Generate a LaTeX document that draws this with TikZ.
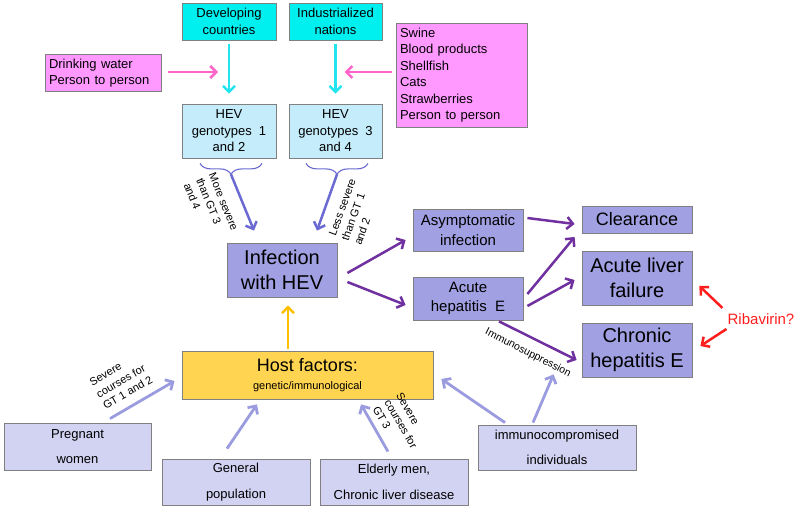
\documentclass[tikz,border=0pt]{standalone}
\usepackage{fontspec}
\setmainfont{Liberation Sans}
\usepackage{tikz}
\usetikzlibrary{arrows.meta,positioning,calc,decorations.pathreplacing}
\definecolor{aqua}{HTML}{00F0F0}
\definecolor{aqualine}{HTML}{22E4EE}
\definecolor{rose}{HTML}{FF99FF}
\definecolor{roseline}{HTML}{FF66CC}
\definecolor{sky}{HTML}{C4ECFA}
\definecolor{lav}{HTML}{A0A0E2}
\definecolor{pale}{HTML}{D2D2F2}
\definecolor{plum}{HTML}{7030A0}
\definecolor{gold}{HTML}{FFD450}
\definecolor{amber}{HTML}{FFC000}
\definecolor{periw}{HTML}{9B9BE0}
\definecolor{slate}{HTML}{6A6AD2}
\definecolor{alert}{HTML}{FF1E1E}
\tikzset{
  >={Straight Barb[length=6pt,width=12pt]},
  box/.style={draw=gray,line width=0.8pt,align=center,inner sep=2pt,
    font=\fontsize{13}{16.5}\selectfont},
  aquabox/.style={box,fill=aqua},
  pinkbox/.style={box,fill=rose,align=left,inner sep=4pt},
  skybox/.style={box,fill=sky},
  lavbox/.style={box,fill=lav,font=\fontsize{20}{24.5}\selectfont},
  smallbox/.style={lavbox,font=\fontsize{15}{19.5}\selectfont},
  palebox/.style={box,fill=pale,font=\fontsize{13}{25.5}\selectfont},
  hostbox/.style={box,fill=gold},
  lbl/.style={align=left,inner sep=0pt,font=\fontsize{11}{13.5}\selectfont},
  aquaflow/.style={->,line width=2.5pt,draw=aqualine},
  pinkflow/.style={->,line width=2.5pt,draw=roseline},
  plumflow/.style={->,line width=2.5pt,draw=plum},
  gtflow/.style={->,line width=2.5pt,draw=slate},
  hostflow/.style={->,line width=2.8pt,draw=periw},
  redflow/.style={->,line width=2.5pt,draw=alert},
  bracket/.style={draw=slate,line width=1.1pt,decorate,
    decoration={brace,mirror,amplitude=11pt}}
}
\begin{document}
\begin{tikzpicture}[x=1pt,y=-1pt]
  \useasboundingbox (0,0) rectangle (798,508);
  % sources and genotypes
  \node[aquabox,minimum width=94pt,minimum height=37pt] (dev) at (229,21.5) {Developing\\countries};
  \node[aquabox,minimum width=93pt,minimum height=37pt] (ind) at (335.5,21.5) {Industrialized\\nations};
  \node[pinkbox,text width=108pt,minimum height=36pt] (water) at (103,73) {Drinking water\\Person to person};
  \node[pinkbox,text width=123pt,minimum height=104pt] (swine) at (461.5,75) {Swine\\Blood products\\Shellfish\\Cats\\Strawberries\\Person to person};
  \node[skybox,minimum width=94pt,minimum height=54pt] (hevA) at (229,131) {HEV\\genotypes\ \ 1\\and 2};
  \node[skybox,minimum width=93pt,minimum height=54pt] (hevB) at (335.5,131) {HEV\\genotypes\ \ 3\\and 4};
  \foreach \a/\b in {dev/hevA,ind/hevB} \draw[aquaflow,shorten <=4pt,shorten >=10pt] (\a) -- (\b);
  \coordinate (mA) at ($(dev.south)!0.5!(hevA.north)$);
  \coordinate (mB) at ($(ind.south)!0.5!(hevB.north)$);
  \draw[pinkflow,shorten <=7pt,shorten >=11pt] (water.east|-mA) -- (mA);
  \draw[pinkflow,shorten <=4pt,shorten >=9pt] (swine.west|-mB) -- (mB);
  % infection and outcomes
  \node[lavbox,minimum width=110pt,minimum height=54pt] (inf) at (282,270) {Infection\\with HEV};
  \node[smallbox,minimum width=110pt,minimum height=42pt] (asym) at (468,230) {Asymptomatic\\infection};
  \node[smallbox,minimum width=110pt,minimum height=43pt] (acute) at (468,298.5) {Acute\\hepatitis\ \ E};
  \node[lavbox,font=\fontsize{18}{22}\selectfont,minimum width=110pt,minimum height=27pt] (clear) at (637,219.5) {Clearance};
  \node[lavbox,minimum width=110pt,minimum height=54pt] (alf) at (637,278) {Acute liver\\failure};
  \node[lavbox,minimum width=110pt,minimum height=54pt] (chron) at (637,350) {Chronic\\hepatitis E};
  \node[text=alert,inner sep=0pt,font=\fontsize{15}{18}\selectfont] (riba) at (761,319) {Ribavirin?};
  \draw[bracket] ([xshift=-29pt,yshift=-5pt]hevA.south) -- ([xshift=33pt,yshift=-5pt]hevA.south);
  \draw[bracket] ([xshift=-29.5pt,yshift=-5pt]hevB.south) -- ([xshift=32.5pt,yshift=-5pt]hevB.south);
  \coordinate (tA) at ([xshift=2pt,yshift=-16pt]hevA.south);
  \coordinate (tB) at ([xshift=1.5pt,yshift=-16pt]hevB.south);
  \draw[gtflow] (tA) -- ([xshift=-28pt,yshift=12pt]inf.north);
  \draw[gtflow] (tB) -- ([xshift=35pt,yshift=12pt]inf.north);
  \node[lbl,rotate=-68] (lA) at (211,207) {More severe\\than GT 3\\and 4};
  \node[lbl,rotate=70] (lB) at (355,212) {Less severe\\than GT 1\\and 2};
  \draw[plumflow] ([xshift=10pt,yshift=-3pt]inf.east) -- ([xshift=-7pt,yshift=-10pt]asym.west);
  \draw[plumflow] ([xshift=10pt,yshift=-12pt]inf.east) -- ([xshift=-7pt,yshift=-6.5pt]acute.west);
  \draw[plumflow] ([xshift=4pt,yshift=12pt]asym.east) -- ([xshift=-7pt,yshift=-4.5pt]clear.west);
  \draw[plumflow] ([xshift=4pt,yshift=4.5pt]acute.east) -- ([xshift=-7pt,yshift=-17.5pt]clear.west);
  \draw[plumflow] ([xshift=4pt,yshift=-7.5pt]acute.east) -- ([xshift=-7pt,yshift=-2pt]alf.west);
  \draw[plumflow] ([xshift=31pt,yshift=-1pt]acute.south) -- ([xshift=-5pt,yshift=-10pt]chron.west);
  \node[inner sep=0pt,rotate=-27,font=\fontsize{10.5}{12}\selectfont] (imsup) at (528,353) {Immunosuppression};
  \draw[redflow] ([xshift=-5pt,yshift=11pt]riba.west) -- ([xshift=7pt,yshift=-8pt]alf.east);
  \draw[redflow] ([xshift=-1pt,yshift=-10pt]riba.west) -- ([xshift=8pt,yshift=4pt]chron.east);
  % host factors
  \node[hostbox,minimum width=251pt,minimum height=48pt] (host) at (307.5,375)
    {{\fontsize{18}{22}\selectfont Host factors:}\\[1pt]{\fontsize{11}{13}\selectfont genetic/immunological}};
  \draw[->,line width=2.5pt,draw=amber] ([xshift=-19.5pt,yshift=2pt]host.north) -- ([xshift=6pt,yshift=-8pt]inf.south);
  \node[palebox,minimum width=147pt,minimum height=47pt] (preg) at (77.5,446.5) {Pregnant\\women};
  \node[palebox,minimum width=148pt,minimum height=46pt] (gen) at (236,482) {General\\population};
  \node[palebox,minimum width=148pt,minimum height=46pt] (eld) at (394,482) {Elderly men,\\Chronic liver disease};
  \node[palebox,minimum width=158pt,minimum height=45pt] (imm) at (557,447.5) {immunocompromised\\individuals};
  \draw[hostflow] ([xshift=32.5pt,yshift=4pt]preg.north) -- ([xshift=-7pt,yshift=-6pt]host.west);
  \draw[hostflow] ([xshift=-9pt,yshift=10pt]gen.north) -- ([xshift=-50.5pt,yshift=-5pt]host.south);
  \draw[hostflow] ([xshift=-6pt,yshift=7pt]eld.north) -- ([xshift=53.5pt,yshift=-5pt]host.south);
  \draw[hostflow] ([xshift=-52pt,yshift=2pt]imm.north) -- ([xshift=8pt,yshift=-4pt]host.east);
  \draw[hostflow] ([xshift=-24pt,yshift=2pt]imm.north) -- ([xshift=-28pt,yshift=3pt]chron.south west);
  \node[lbl,rotate=30] (lP) at (121,381) {Severe\\courses for\\GT 1 and 2};
  \node[lbl,rotate=-60] (lE) at (401,424) {Severe\\courses for\\GT 3};
\end{tikzpicture}
\end{document}
